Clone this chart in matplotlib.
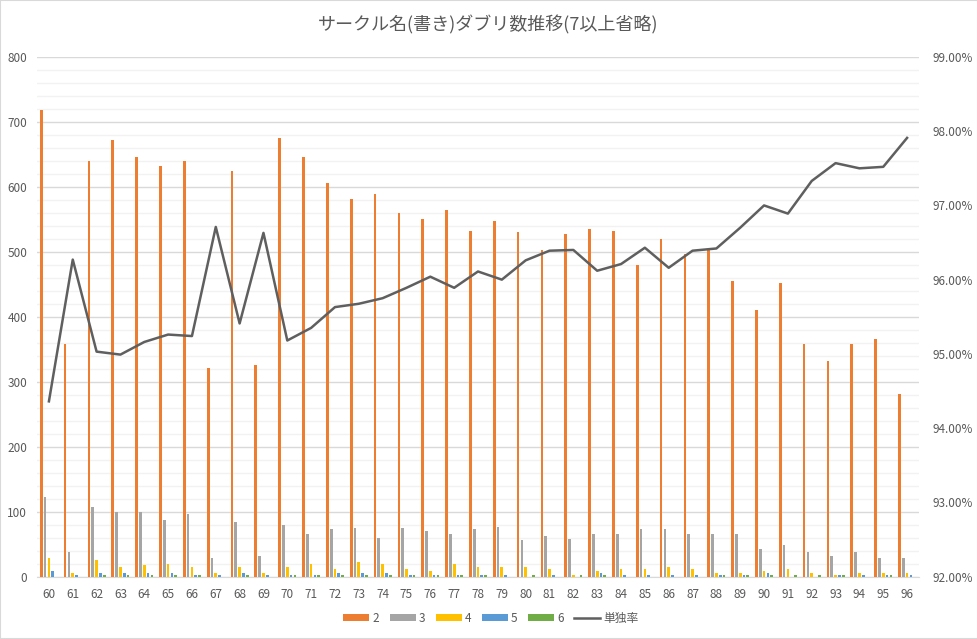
import numpy as np
import matplotlib.pyplot as plt
from matplotlib.patches import Rectangle
from matplotlib.ticker import MultipleLocator, FuncFormatter

plt.rcParams['font.family'] = ['Noto Sans CJK JP', 'DejaVu Sans']

# data
categories = [str(n) for n in range(60, 97)]
dup2 = [718, 358, 640, 672, 646, 632, 640, 321, 625, 325, 675, 646, 606, 582, 589,
        560, 551, 565, 532, 548, 531, 503, 528, 535, 532, 480, 520, 497, 505, 455,
        411, 452, 358, 332, 358, 366, 281]
dup3 = [122, 37, 107, 99, 99, 87, 97, 29, 84, 32, 79, 66, 73, 74, 60,
        74, 70, 66, 73, 76, 56, 63, 57, 66, 66, 73, 73, 66, 65, 66,
        43, 49, 37, 32, 37, 28, 29]
dup4 = [28, 5, 26, 14, 17, 20, 14, 5, 14, 6, 15, 19, 12, 23, 19,
        12, 9, 20, 14, 14, 14, 12, 3, 9, 12, 12, 14, 11, 6, 5,
        9, 11, 5, 2, 6, 5, 5]
dup5 = [9, 2, 5, 6, 6, 6, 3, 2, 5, 2, 3, 3, 6, 5, 5,
        3, 2, 3, 2, 3, 0, 2, 0, 5, 2, 2, 3, 3, 2, 2,
        5, 0, 0, 2, 2, 2, 2]
dup6 = [0, 0, 2, 2, 2, 2, 2, 0, 3, 0, 2, 2, 2, 2, 2,
        2, 2, 2, 2, 0, 2, 0, 2, 2, 0, 0, 0, 0, 2, 2,
        2, 2, 2, 2, 0, 2, 0]
single_rate = [94.36, 96.27, 95.03, 94.99, 95.16, 95.26, 95.24, 96.71, 95.41, 96.63,
               95.18, 95.35, 95.63, 95.675, 95.75, 95.89, 96.04, 95.89, 96.11, 96.00,
               96.26, 96.39, 96.40, 96.12, 96.21, 96.43, 96.16, 96.39, 96.42, 96.70,
               97.00, 96.89, 97.33, 97.57, 97.50, 97.52, 97.91]

series = [('2', dup2, '#ED7D31'), ('3', dup3, '#A5A5A5'), ('4', dup4, '#FFC000'),
          ('5', dup5, '#5B9BD5'), ('6', dup6, '#70AD47')]

text_color = '#595959'
W, H = 978, 639
fig = plt.figure(figsize=(W / 100, H / 100), dpi=100)
ax = fig.add_axes([37 / W, (H - 576.5) / H, (919 - 37) / W, (576.5 - 57) / H])

x = np.arange(len(categories))
step, width = 0.16, 0.113
for i, (name, vals, col) in enumerate(series):
    ax.bar(x + (i - 2) * step, vals, width, color=col, label=name, zorder=3)

ax.set_xlim(-0.5, len(categories) - 0.5)
ax.set_ylim(0, 800)
ax.yaxis.set_major_locator(MultipleLocator(100))
ax.yaxis.set_minor_locator(MultipleLocator(20))
ax.grid(axis='y', which='major', color='#D9D9D9', linewidth=1.0, zorder=0)
ax.grid(axis='y', which='minor', color='#F2F2F2', linewidth=1.0, zorder=0)
ax.set_xticks(x)
ax.set_xticklabels(categories)
ax.tick_params(axis='both', which='both', length=0, labelsize=8.5, colors=text_color)
ax.tick_params(axis='x', pad=8)
ax.tick_params(axis='y', pad=7)
for s in ['top', 'left', 'right']:
    ax.spines[s].set_visible(False)
ax.spines['bottom'].set_color('#D9D9D9')

ax2 = ax.twinx()
ax2.plot(x, single_rate, color='#5F5F5F', linewidth=1.8, label='単独率', zorder=4)
ax2.set_ylim(92, 99)
ax2.yaxis.set_major_locator(MultipleLocator(1))
ax2.yaxis.set_major_formatter(FuncFormatter(lambda v, p: f'{v:.2f}%'))
ax2.tick_params(axis='y', length=0, labelsize=8.5, colors=text_color, pad=10)
for s in ax2.spines.values():
    s.set_visible(False)

fig.text(488 / W, 1 - 25 / H, 'サークル名(書き)ダブリ数推移(7以上省略)',
         ha='center', va='center', fontsize=13, color=text_color)

h1, l1 = ax.get_legend_handles_labels()
h2, l2 = ax2.get_legend_handles_labels()
fig.legend(h1 + h2, l1 + l2, loc='center', bbox_to_anchor=(491 / W, 1 - 618 / H),
           ncol=6, frameon=False, fontsize=8.5, labelcolor=text_color,
           handlelength=2.2, handleheight=0.55, columnspacing=0.85, handletextpad=0.3)

fig.patches.append(Rectangle((0, 0), 1, 1, transform=fig.transFigure, fill=False,
                             edgecolor='#D9D9D9', linewidth=1.5))

fig.savefig('out.png', dpi=100)
